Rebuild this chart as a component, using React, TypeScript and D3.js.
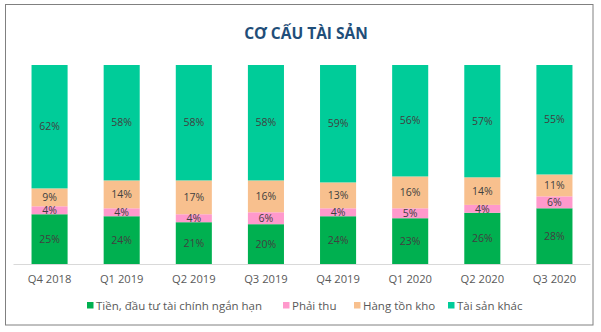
import React from "react";
import * as d3 from "d3";

const categories = ["Q4 2018", "Q1 2019", "Q2 2019", "Q3 2019", "Q4 2019", "Q1 2020", "Q2 2020", "Q3 2020"];
const seriesNames = ["Tiền, đầu tư tài chính ngắn hạn", "Phải thu", "Hàng tồn kho", "Tài sản khác"];
const tien = [25, 24, 21, 20, 24, 23, 26, 28];
const phaiThu = [4, 4, 4, 6, 4, 5, 4, 6];
const hangTonKho = [9, 14, 17, 16, 13, 16, 14, 11];
const taiSanKhac = [62, 58, 58, 58, 59, 56, 57, 55];
const colors = ["#00b050", "#ff99cc", "#f8c08e", "#00cc99"];
const legendX = [87, 283, 354, 448];

const W = 601, H = 332;
const FONT = "'Open Sans', 'Noto Sans', sans-serif";

export default function App() {
  const series = [tien, phaiThu, hangTonKho, taiSanKhac];
  const rows = categories.map((c, i) => {
    const r: any = { cat: c };
    seriesNames.forEach((s, k) => (r[s] = series[k][i]));
    return r;
  });
  const stacked = d3.stack<any>().keys(seriesNames).offset(d3.stackOffsetExpand)(rows);
  const x = d3.scaleBand<string>().domain(categories).range([13.5, 590.5]).paddingInner(0.5).paddingOuter(0.25);
  const y = d3.scaleLinear().domain([0, 1]).range([264, 65]);

  return (
    <svg width={W} height={H} style={{ position: "absolute", left: 0, top: 0, display: "block" }}>
      <rect x={0} y={0} width={W} height={H} fill="#fff" />
      <rect x={5.5} y={4.5} width={587.5} height={320.5} fill="#fff" stroke="#808080" strokeWidth={1} />
      <text x={306} y={39} textAnchor="middle" fontFamily={FONT} fontWeight="bold" fontSize={15.5} fill="#1f4e79">CƠ CẤU TÀI SẢN</text>
      {stacked.map((layer, k) => (
        <g key={k}>
          {layer.map((d, i) => (
            <rect key={i} x={x(categories[i])!} width={x.bandwidth()} y={y(d[1])} height={y(d[0]) - y(d[1])} fill={colors[k]} />
          ))}
        </g>
      ))}
      {stacked.map((layer, k) => (
        <g key={"l" + k}>
          {layer.map((d, i) => (
            <text key={i} x={x(categories[i])! + x.bandwidth() / 2} y={(y(d[0]) + y(d[1])) / 2} dy="0.35em" textAnchor="middle" fontFamily={FONT} fontSize={10.5} fill="#404040">
              {series[k][i]}%
            </text>
          ))}
        </g>
      ))}
      <line x1={13.5} x2={590.5} y1={264.5} y2={264.5} stroke="#d9d9d9" strokeWidth={1} />
      {categories.map((c) => (
        <text key={c} x={x(c)! + x.bandwidth() / 2} y={283} textAnchor="middle" fontFamily={FONT} fontSize={11.2} fill="#595959">{c}</text>
      ))}
      {seriesNames.map((s, k) => (
        <g key={s}>
          <rect x={legendX[k]} y={302} width={6.5} height={6.5} fill={colors[k]} />
          <text x={legendX[k] + 9} y={309.5} fontFamily={FONT} fontSize={11.5} fill="#595959">{s}</text>
        </g>
      ))}
    </svg>
  );
}
